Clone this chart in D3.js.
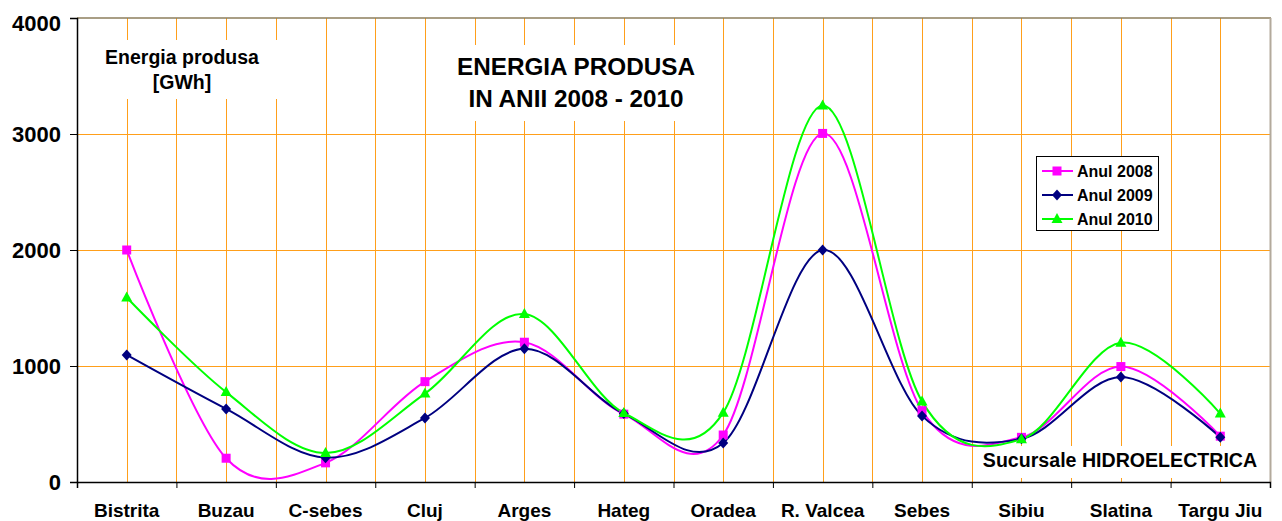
<!DOCTYPE html>
<html>
<head>
<meta charset="utf-8">
<script src="https://cdn.jsdelivr.net/npm/d3@7"></script>
<style>
body { margin: 0; background: #fff; }
svg { display: block; font-family: "Liberation Sans", Arial, sans-serif; font-weight: bold; }
</style>
</head>
<body>
<svg id="chart" width="1282" height="521"></svg>
<script>
var sucursale = ['Bistrita', 'Buzau', 'C-sebes', 'Cluj', 'Arges', 'Hateg', 'Oradea', 'R. Valcea', 'Sebes', 'Sibiu', 'Slatina', 'Targu Jiu'];
var anul2008 = [2000, 205, 165, 865, 1205, 585, 405, 3005, 615, 385, 995, 395];
var anul2009 = [1095, 630, 210, 552, 1148, 590, 336, 2000, 570, 372, 905, 385];
var anul2010 = [1590, 775, 250, 762, 1448, 595, 598, 3245, 695, 368, 1200, 590];
var yTicks = [0, 1000, 2000, 3000, 4000];

var series = [
  {name: 'Anul 2008', values: anul2008, color: '#ff00ff', marker: 'square'},
  {name: 'Anul 2009', values: anul2009, color: '#000080', marker: 'diamond'},
  {name: 'Anul 2010', values: anul2010, color: '#00ff00', marker: 'triangle'}
];

var plotL = 77, plotR = 1270, plotT = 18, plotB = 482;
var grid = '#ff9f1a';

var svg = d3.select('#chart');

var x = d3.scaleBand().domain(sucursale).range([plotL, plotR]).padding(0);
var xb = d3.scaleLinear().domain([0, sucursale.length]).range([plotL, plotR]); // category boundaries
var y = d3.scaleLinear().domain([0, 4000]).range([plotB, plotT]);
var cx = function(d) { return x(d) + x.bandwidth() / 2; };

// gridlines
svg.append('g').selectAll('line')
  .data(yTicks.filter(function(t) { return t > 0 && t < 4000; }))
  .enter().append('line')
  .attr('x1', plotL).attr('x2', plotR)
  .attr('y1', function(d) { return Math.round(y(d)) + 0.5; }).attr('y2', function(d) { return Math.round(y(d)) + 0.5; })
  .attr('stroke', grid).attr('stroke-width', 1);

var vpos = d3.range(1, sucursale.length).map(function(i) { return xb(i); })
  .concat(sucursale.map(cx));
svg.append('g').selectAll('line')
  .data(vpos)
  .enter().append('line')
  .attr('x1', function(d) { return Math.round(d) + 0.5; }).attr('x2', function(d) { return Math.round(d) + 0.5; })
  .attr('y1', plotT).attr('y2', plotB)
  .attr('stroke', grid).attr('stroke-width', 1);

// plot border top / right
svg.append('line').attr('x1', plotL).attr('x2', plotR + 1).attr('y1', y(4000)).attr('y2', y(4000))
  .attr('stroke', '#8d7e5c').attr('stroke-width', 1.5);
svg.append('line').attr('x1', plotR + 0.5).attr('x2', plotR + 0.5).attr('y1', y(4000)).attr('y2', plotB)
  .attr('stroke', '#b3aa9c').attr('stroke-width', 2);

// white boxes behind annotations
svg.append('rect').attr('x', 92).attr('y', 40).attr('width', 196).attr('height', 59).attr('fill', '#fff');
svg.append('rect').attr('x', 431).attr('y', 45).attr('width', 288).attr('height', 76).attr('fill', '#fff');
svg.append('rect').attr('x', 976).attr('y', 446).attr('width', 290).attr('height', 32).attr('fill', '#fff');

// y axis
var yAxis = svg.append('g').attr('transform', 'translate(' + plotL + ',0)')
  .call(d3.axisLeft(y).tickValues(yTicks).tickSize(7).tickPadding(9).tickFormat(d3.format('d')));
yAxis.select('.domain').attr('stroke', '#000').attr('stroke-width', 1.5);
yAxis.selectAll('.tick line').attr('stroke', '#000');
yAxis.selectAll('.tick text')
  .attr('font-size', 22).attr('font-family', '"Liberation Sans", Arial, sans-serif').attr('font-weight', 'bold')
  .attr('fill', '#000')
  .attr('dy', function(d) { return d === 4000 ? '0.55em' : '0.36em'; });

// x axis: ticks at category boundaries
var xAxis = svg.append('g').attr('transform', 'translate(0,' + plotB + ')')
  .call(d3.axisBottom(xb).tickValues(d3.range(0, sucursale.length + 1)).tickSize(6).tickFormat(''));
xAxis.select('.domain').attr('stroke', '#000').attr('stroke-width', 1.5);
xAxis.selectAll('.tick line').attr('stroke', '#000');

svg.append('g').selectAll('text')
  .data(sucursale)
  .enter().append('text')
  .attr('x', cx).attr('y', 517)
  .attr('text-anchor', 'middle')
  .attr('font-size', 19)
  .text(function(d) { return d; });

// lines
var line = d3.line()
  .x(function(d, i) { return cx(sucursale[i]); })
  .y(function(d) { return y(d); })
  .curve(d3.curveCatmullRom.alpha(0));

function drawMarker(g, type, color) {
  if (type === 'square') {
    g.append('rect').attr('x', -4.5).attr('y', -4.5).attr('width', 9).attr('height', 9).attr('fill', color);
  } else if (type === 'diamond') {
    g.append('path').attr('d', 'M0,-5.5L5,0L0,5.5L-5,0Z').attr('fill', color);
  } else {
    g.append('path').attr('d', 'M0,-6L5.5,4L-5.5,4Z').attr('fill', color);
  }
}

series.forEach(function(s) {
  svg.append('path')
    .datum(s.values)
    .attr('d', line)
    .attr('fill', 'none')
    .attr('stroke', s.color)
    .attr('stroke-width', 2);
});
series.forEach(function(s) {
  s.values.forEach(function(v, i) {
    var g = svg.append('g').attr('transform', 'translate(' + cx(sucursale[i]) + ',' + y(v) + ')');
    drawMarker(g, s.marker, s.color);
  });
});

// annotations
svg.append('text').attr('x', 182).attr('y', 64).attr('text-anchor', 'middle').attr('font-size', 19.5).text('Energia produsa');
svg.append('text').attr('x', 182).attr('y', 89).attr('text-anchor', 'middle').attr('font-size', 19.5).text('[GWh]');
svg.append('text').attr('x', 576).attr('y', 75).attr('text-anchor', 'middle').attr('font-size', 24.3).text('ENERGIA PRODUSA');
svg.append('text').attr('x', 576).attr('y', 107).attr('text-anchor', 'middle').attr('font-size', 24.3).text('IN ANII 2008 - 2010');
svg.append('text').attr('x', 1120).attr('y', 467).attr('text-anchor', 'middle').attr('font-size', 19.6).text('Sucursale HIDROELECTRICA');

// legend
var legend = svg.append('g').attr('transform', 'translate(1036,156)');
legend.append('rect').attr('x', 0.5).attr('y', 0.5).attr('width', 122).attr('height', 74)
  .attr('fill', '#fff').attr('stroke', '#000').attr('stroke-width', 1);
series.forEach(function(s, i) {
  var yy = 15 + i * 24;
  legend.append('line').attr('x1', 6).attr('x2', 37).attr('y1', yy).attr('y2', yy)
    .attr('stroke', s.color).attr('stroke-width', 2);
  var g = legend.append('g').attr('transform', 'translate(21,' + yy + ')');
  drawMarker(g, s.marker, s.color);
  legend.append('text').attr('x', 41).attr('y', yy + 5.5).attr('font-size', 16).text(s.name);
});
</script>
</body>
</html>
